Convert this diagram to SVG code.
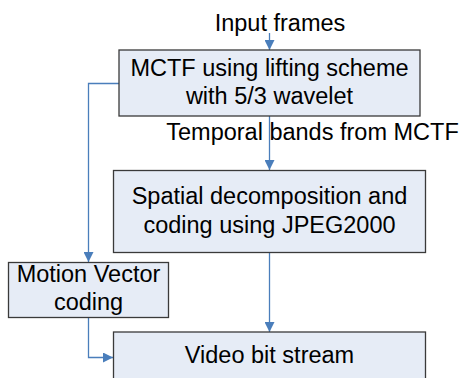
<svg xmlns="http://www.w3.org/2000/svg" width="465" height="378" viewBox="0 0 465 378">
<defs>
<style>
.box{fill:#E6ECF6;stroke:#3A3A3A;stroke-width:1.3}
.t{font-family:"Liberation Sans",Arial,sans-serif;font-size:23.5px;fill:#000;text-anchor:middle}
.c{fill:none;stroke:#4A7EBB;stroke-width:1.3}
</style>
<marker id="ah" viewBox="0 0 10 10" refX="10" refY="5" markerWidth="10" markerHeight="10" markerUnits="userSpaceOnUse" orient="auto">
<path d="M0,0 L10,5 L0,10 Z" fill="#4A7EBB"/>
</marker>
</defs>
<rect width="465" height="378" fill="#fff"/>
<g id="connectors">
<path class="c" d="M269.5,33 V50" marker-end="url(#ah)"/>
<path class="c" d="M269.5,116 V170" marker-end="url(#ah)"/>
<path class="c" d="M119,83.5 H88.5 V262" marker-end="url(#ah)"/>
<path class="c" d="M269.5,253 V332" marker-end="url(#ah)"/>
<path class="c" d="M88.5,318 V357.5 H113" marker-end="url(#ah)"/>
</g>
<g id="input-label"><text class="t" x="280" y="31">Input frames</text></g>
<g id="mctf">
<rect class="box" x="119" y="50" width="301" height="66"/>
<text class="t" x="269.5" y="76">MCTF using lifting scheme</text>
<text class="t" x="269.5" y="104">with 5/3 wavelet</text>
</g>
<g id="temporal-label"><text class="t" x="312.5" y="140">Temporal bands from MCTF</text></g>
<g id="spatial">
<rect class="box" x="113.5" y="170.5" width="312" height="82"/>
<text class="t" x="269.5" y="204">Spatial decomposition and</text>
<text class="t" x="269.5" y="233">coding using JPEG2000</text>
</g>
<g id="mv">
<rect class="box" x="8.5" y="262.5" width="160" height="55"/>
<text class="t" x="88.5" y="282">Motion Vector</text>
<text class="t" x="88.5" y="310">coding</text>
</g>
<g id="bitstream">
<rect class="box" x="113.5" y="332" width="312" height="60"/>
<text class="t" x="269.5" y="363">Video bit stream</text>
</g>
</svg>
